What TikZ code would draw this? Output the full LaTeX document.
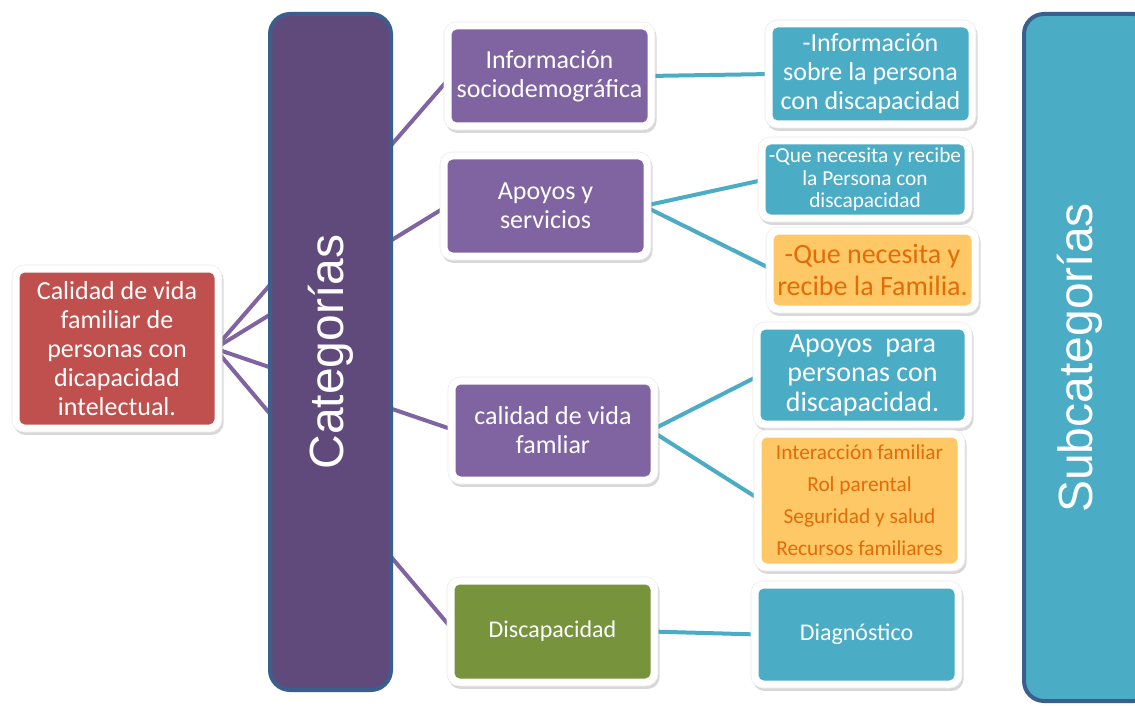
\documentclass[tikz,border=0pt]{standalone}
\usepackage{fontspec}
\setmainfont{Carlito}
\newfontfamily\barfont{Liberation Sans}
\usetikzlibrary{shadows,backgrounds}
\definecolor{barpurple}{HTML}{604A7B}
\definecolor{barborder}{HTML}{3B5F8C}
\definecolor{catpurple}{HTML}{8064A2}
\definecolor{rootred}{HTML}{C0504D}
\definecolor{discgreen}{HTML}{77933C}
\definecolor{tealc}{HTML}{4BACC6}
\definecolor{orangefill}{HTML}{FDC865}
\definecolor{orangetext}{HTML}{E36C09}
\tikzset{
  whiteframe/.style={fill=white, draw=black!8, line width=0.4pt, rounded corners=9pt,
    drop shadow={shadow xshift=1.2pt, shadow yshift=-2.2pt, opacity=0.3}},
  innerbox/.style={rounded corners=4pt, inner sep=0pt, align=center, text=white},
  rootbox/.style={innerbox, fill=rootred},
  catbox/.style={innerbox, fill=catpurple},
  greenbox/.style={innerbox, fill=discgreen},
  tealbox/.style={innerbox, fill=tealc},
  orangebox/.style={innerbox, fill=orangefill, text=orangetext},
  bigtext/.style={font=\fontsize{19.5}{21.8}\selectfont},
  purpleline/.style={draw=catpurple, line width=3pt},
  tealline/.style={draw=tealc, line width=3pt},
  bar/.style={draw=barborder, line width=3pt, rounded corners=15pt, inner sep=0pt},
  bartext/.style={rotate=90, text=white, font=\barfont\fontsize{36}{36}\selectfont}
}
% name, x1, y1, x2, y2, style, text
\newcommand\mkbox[7]{%
  \path[whiteframe] (#2,#3) rectangle (#4,#5);
  \node[#6, minimum width={(#4-#2-15)*0.75pt}, minimum height={(#5-#3-15)*0.75pt}]
    (#1) at ({(#2+#4)/2},{(#3+#5)/2}) {#7};
}
\begin{document}
\begin{tikzpicture}[x=0.75pt, y=-0.75pt]
\useasboundingbox (0,0) rectangle (1135,706);

% root
\mkbox{root}{12}{265}{222}{432}{rootbox,bigtext}{Calidad de vida\\familiar de\\personas con\\dicapacidad\\intelectual.}

% bars
\node[bar, fill=barpurple, minimum width=90.75pt, minimum height=507pt] (catbar) at (330.5,352) {};
\node[bartext] (catlabel) at (catbar.center) {Categorías};
\begin{scope}
\clip (0,0) rectangle (1135,706);
\node[bar, fill=tealc, minimum width=97.5pt, minimum height=515.25pt] (subbar) at (1089,357.5) {};
\end{scope}
\node[bartext] (sublabel) at (1080,358) {Subcategorías};

% categories
\mkbox{info}{444}{22}{655}{130}{catbox,bigtext}{Información\\sociodemográfica}
\mkbox{apoyos}{440}{152}{651}{260}{catbox,bigtext}{Apoyos y\\servicios}
\mkbox{calidad}{448}{377}{658}{484}{catbox,bigtext}{calidad de vida\\famliar}
\mkbox{disc}{447}{577}{658}{686}{greenbox,font=\fontsize{18}{21}\selectfont}{Discapacidad}

% subcategories
\mkbox{sinfo}{765}{20}{976}{128}{tealbox,bigtext}{-Información\\sobre la persona\\con discapacidad}
\mkbox{sapa}{758}{137}{972}{222}{tealbox,font=\fontsize{16}{17}\selectfont}{-Que necesita y recibe\\la Persona con\\discapacidad}
\mkbox{sapb}{766}{227}{979}{313}{orangebox,font=\fontsize{21}{23.3}\selectfont}{-Que necesita y\\recibe la Familia.}
\mkbox{scala}{753}{322}{972}{428}{tealbox,font=\fontsize{21}{22.1}\selectfont}{Apoyos\ \ para\\personas con\\discapacidad.}
\mkbox{scalb}{754}{430}{965}{571}{orangebox,font=\fontsize{16}{24}\selectfont}{Interacción familiar\\Rol parental\\Seguridad y salud\\Recursos familiares}
\mkbox{sdisc}{751}{581}{962}{688}{tealbox,font=\fontsize{18}{21}\selectfont}{Diagnóstico}

% connectors
\begin{pgfonlayer}{background}
\fill[white] (0,0) rectangle (1135,706);
\draw[purpleline] (root.east) -- (info.west);
\draw[purpleline] (root.east) -- (apoyos.west);
\draw[purpleline] (root.east) -- (calidad.west);
\draw[purpleline] (root.east) -- (disc.west);
\draw[tealline] (info.east) -- (sinfo.west);
\draw[tealline] (apoyos.east) -- (sapa.west);
\draw[tealline] (apoyos.east) -- (sapb.west);
\draw[tealline] (calidad.east) -- (scala.west);
\draw[tealline] (calidad.east) -- (scalb.west);
\draw[tealline] (disc.east) -- (sdisc.west);
\end{pgfonlayer}
\end{tikzpicture}
\end{document}
